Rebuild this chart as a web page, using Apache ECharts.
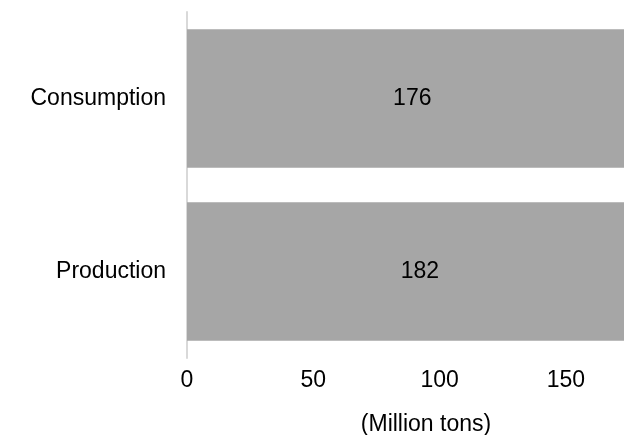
<!DOCTYPE html>
<html>
<head>
<meta charset="utf-8">
<script src="https://cdn.jsdelivr.net/npm/echarts@6/dist/echarts.min.js"></script>
<style>
  html, body { margin: 0; padding: 0; background: #ffffff; }
  #chart { width: 624px; height: 435px; }
</style>
</head>
<body>
<div id="chart"></div>
<script>
// Categories listed bottom-to-top for the horizontal bars
const categories = ['Production', 'Consumption'];
const values = [182, 176];
const tickLabels = ['0', '50', '100', '150'];
const axisTitle = '(Million tons)';

const FONT = 'Liberation Sans, Arial, sans-serif';

const chart = echarts.init(document.getElementById('chart'), null, { renderer: 'canvas' });

chart.setOption({
  animation: false,
  backgroundColor: '#ffffff',
  grid: {
    left: 187, right: 0, top: 12, bottom: 77,
    containLabel: false,
    outerBoundsMode: 'none'
  },
  xAxis: {
    type: 'value',
    min: 0,
    max: 173,
    interval: 50,
    axisLine: { show: false },
    axisTick: { show: false },
    splitLine: { show: false },
    axisLabel: {
      color: '#000',
      fontFamily: FONT,
      fontSize: 23,
      margin: 11,
      showMaxLabel: false,
      formatter: function (v) {
        const s = String(v);
        return tickLabels.indexOf(s) >= 0 ? s : '';
      }
    },
    name: axisTitle,
    nameLocation: 'middle',
    nameGap: 55,
    nameTextStyle: {
      color: '#000',
      fontFamily: FONT,
      fontSize: 23,
      padding: [0, 0, 0, 41]
    }
  },
  yAxis: {
    type: 'category',
    data: categories,
    axisLine: { show: true, lineStyle: { color: '#d9d9d9', width: 2 } },
    axisTick: { show: false },
    splitLine: { show: false },
    axisLabel: {
      color: '#000',
      fontFamily: FONT,
      fontSize: 23,
      margin: 21
    }
  },
  series: [{
    type: 'bar',
    data: values,
    barCategoryGap: '20%',
    clip: false,
    itemStyle: { color: '#a6a6a6' },
    label: {
      show: true,
      position: 'inside',
      offset: [3, 0],
      color: '#000',
      fontFamily: FONT,
      fontSize: 23
    }
  }]
});
</script>
</body>
</html>
